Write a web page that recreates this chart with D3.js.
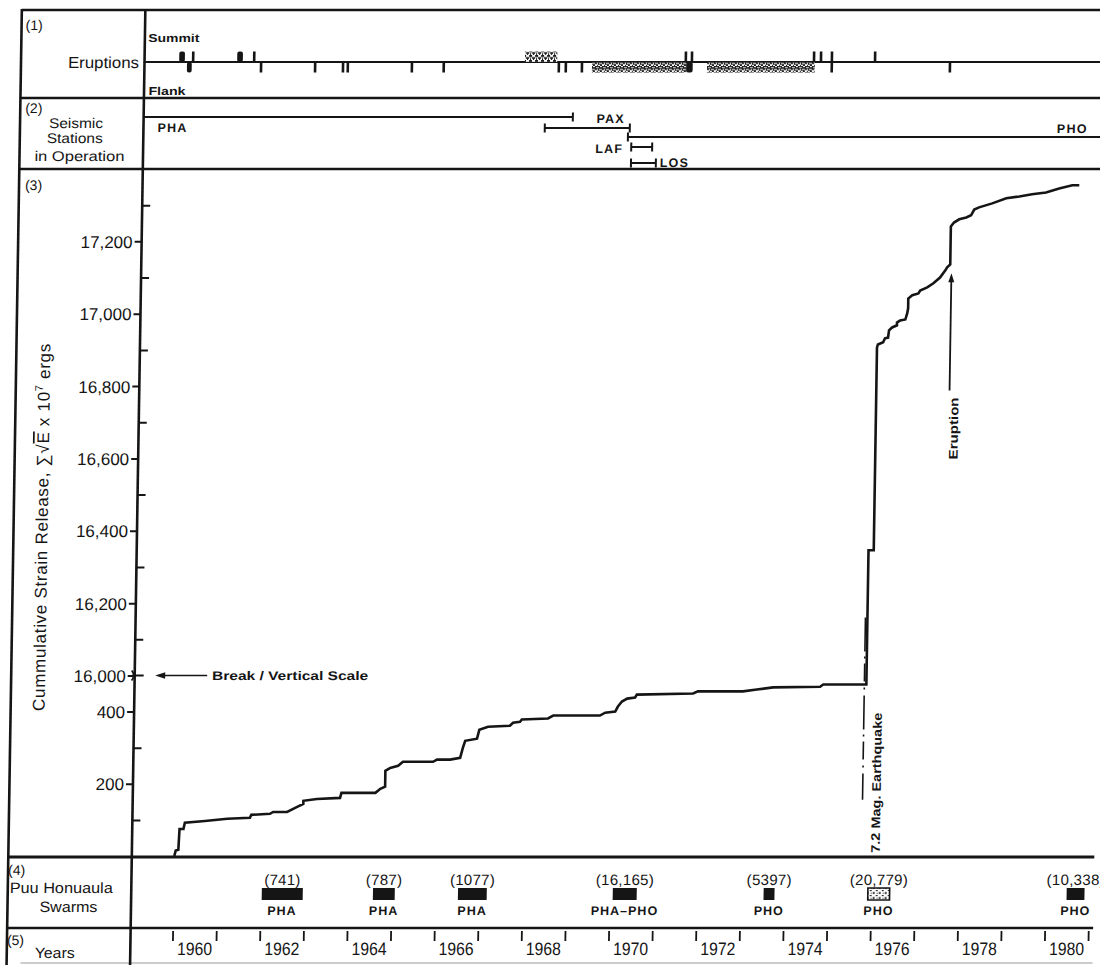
<!DOCTYPE html>
<html>
<head>
<meta charset="utf-8">
<script src="https://cdn.jsdelivr.net/npm/d3@7"></script>
<style>
html,body{margin:0;padding:0;background:#fff;}
svg{display:block;}
text{font-family:"Liberation Sans",Arial,Helvetica,sans-serif;fill:#151515;}
</style>
</head>
<body>
<svg id="chart" width="1100" height="965"></svg>
<script>
// ---------------- DATA ----------------
const yearTicks = [1960,1961,1962,1963,1964,1965,1966,1967,1968,1969,1970,1971,1972,1973,1974,1975,1976,1977,1978,1979,1980,1981];
const yearLabels = [1960,1962,1964,1966,1968,1970,1972,1974,1976,1978,1980];

const majorTicks = [200,400,16000,16200,16400,16600,16800,17000,17200];
const minorTicks = [100,300,16100,16300,16500,16700,16900,17100,17300];

// cumulative strain release curve (year, value)
const strainYears = [1960.00,1960.03,1960.09,1960.11,1960.20,1960.23,1960.69,1961.20,1961.72,1961.75,
  1962.18,1962.25,1962.57,1962.80,1962.94,1962.94,1963.25,1963.78,1963.81,1964.59,
  1964.70,1964.81,1964.81,1964.92,1965.10,1965.21,1965.90,1965.99,1966.29,1966.52,
  1966.58,1966.63,1966.90,1966.95,1967.15,1967.65,1967.72,1967.88,1967.92,1968.52,
  1968.64,1969.71,1969.83,1970.06,1970.12,1970.21,1970.33,1970.51,1970.55,1971.84,
  1971.95,1972.98,1973.30,1973.67,1974.75,1974.82,1975.81,1975.81,1975.93,1975.93,
  1975.95,1976.07,1976.11,1976.18,1976.20,1976.27,1976.38,1976.38,1976.45,1976.57,
  1976.61,1976.63,1976.63,1976.72,1976.86,1976.90,1977.06,1977.20,1977.35,1977.47,
  1977.51,1977.58,1977.58,1977.65,1977.77,1977.93,1978.04,1978.11,1978.22,1978.52,
  1978.84,1979.14,1979.43,1979.75,1980.05,1980.35,1980.51];
const strainValues = [0,15,17,75,75,92,97,103,106,114,
  117,122,122,136,144,153,158,161,175,175,
  186,192,236,244,250,261,261,267,267,272,
  300,319,325,350,358,361,369,372,378,381,
  389,389,397,400,414,428,436,439,447,450,
  456,456,461,467,469,475,475,16346,16346,16907,
  16915,16921,16932,16934,16954,16962,16968,16976,16981,16984,
  17001,17015,17042,17051,17056,17064,17073,17084,17100,17120,
  17128,17136,17241,17252,17261,17266,17272,17288,17294,17305,
  17319,17324,17330,17335,17346,17355,17355];

// eruptions
const eruptStart = [1959.82,1960.14,1961.15,1961.54,1967.75,1971.44,1971.58,1974.38,1974.54,1974.79,1975.78,
  1960.00,1961.70,1962.94,1963.58,1963.69,1965.16,1965.89,1968.53,1968.69,1969.06,1969.29,1971.45,1971.93,1974.79,1977.50];
const eruptEnd = [1959.95,1960.14,1961.28,1961.54,1968.49,1971.44,1971.58,1974.38,1974.54,1974.79,1975.78,
  1960.11,1961.70,1962.94,1963.58,1963.69,1965.16,1965.89,1968.53,1968.69,1969.06,1971.45,1971.60,1974.40,1974.79,1977.50];
const eruptSide = ["summit","summit","summit","summit","summit","summit","summit","summit","summit","summit","summit",
  "flank","flank","flank","flank","flank","flank","flank","flank","flank","flank","flank","flank","flank","flank","flank"];
const eruptKind = ["solid","solid","solid","solid","stipple","solid","solid","solid","solid","solid","solid",
  "solid","solid","solid","solid","solid","solid","solid","solid","solid","solid","stipple","solid","stipple","solid","solid"];

// seismic stations
const stationNames = ["PHA","PAX","PHO","LAF","LOS"];
const stationStart = [1959.03,1968.23,1970.14,1970.22,1970.22];
const stationEnd   = [1968.87,1970.18,1981.50,1970.70,1970.79];

// Puu Honuaula swarms
const swarmEnergy  = [741,787,1077,16165,5397,20779,10338];
const swarmStart   = [1962.02,1964.57,1966.52,1970.07,1973.53,1975.92,1980.48];
const swarmEnd     = [1962.96,1965.07,1967.18,1970.62,1973.78,1976.42,1980.89];
const swarmStation = ["PHA","PHA","PHA","PHA\u2013PHO","PHO","PHO","PHO"];
const swarmKind    = ["solid","solid","solid","solid","solid","open","solid"];

const earthquakeYear = 1975.81;
const eruptionYear = 1977.61;

// ---------------- LAYOUT ----------------
const LEFT = 14, AX = 137.5, RIGHT = 1100;
const Y_TOP = 10, Y_S1 = 98, Y_S2 = 169, Y_S3 = 857, Y_S4 = 928;
const BASE = 62;
const INK = "#151515";

const x = d3.scaleLinear().domain([1960, 1980]).range([180, 1052]);
const y = d3.scaleLinear().domain([0, 500, 16000, 17400]).range([856, 675.5, 675.5, 169]);

const svg = d3.select("#chart");
const defs = svg.append("defs");
const pat = defs.append("pattern").attr("id","stip").attr("width",7).attr("height",6).attr("patternUnits","userSpaceOnUse");
pat.append("rect").attr("width",7).attr("height",6).attr("fill","#1a1a1a");
pat.append("path").attr("d","M1,1h3v1h-3z M4,3h3v1h-3z M0,4h2v2h-2z M5,0h2v1h-2z M2,3h1v2h-1z M3,5h2v1h-2z").attr("fill","#fff");
const pat2 = defs.append("pattern").attr("id","stip2").attr("width",6).attr("height",5).attr("patternUnits","userSpaceOnUse");
pat2.append("rect").attr("width",6).attr("height",5).attr("fill","#fff");
pat2.append("path").attr("d","M0,0h2v1h-2z M3,2h2v2h-2z M1,3h1v1h-1z").attr("fill","#222");
const pat3 = defs.append("pattern").attr("id","stip3").attr("width",6).attr("height",5).attr("patternUnits","userSpaceOnUse");
pat3.append("rect").attr("width",6).attr("height",5).attr("fill","#fff");
pat3.append("path").attr("d","M0,0h3v2h-3z M3,2h3v2h-3z M1,3h1v2h-1z M4,4h1v1h-1z").attr("fill","#1a1a1a");

// scan skew
const g = svg.append("g").attr("transform","translate(0,500) skewX(-0.917) translate(0,-500)");

function label(parent, px, py, s, o = {}) {
  const t = parent.append("text").attr("x", px).attr("y", py).text(s)
    .attr("font-size", o.size || 14)
    .attr("font-weight", o.weight || "normal")
    .attr("text-anchor", o.anchor || "start");
  if (o.len) t.attr("textLength", o.len).attr("lengthAdjust", "spacingAndGlyphs");
  if (o.ls) t.attr("letter-spacing", o.ls);
  if (o.rot) t.attr("transform", `rotate(-90,${px},${py})`);
  return t;
}
function hline(py, w, x0 = LEFT, x1 = RIGHT) {
  g.append("line").attr("x1", x0).attr("x2", x1).attr("y1", py).attr("y2", py)
    .attr("stroke", INK).attr("stroke-width", w);
}

// ---------------- FRAME ----------------
hline(Y_TOP, 2.6);
hline(Y_S1, 2.6);
hline(Y_S2, 2.6);
hline(Y_S3, 2.8);
hline(Y_S4, 2.6);
g.append("line").attr("x1", LEFT + 14).attr("x2", RIGHT).attr("y1", 963).attr("y2", 963)
  .attr("stroke", "#bbb").attr("stroke-width", 1.5);
g.append("line").attr("x1", LEFT).attr("x2", LEFT).attr("y1", Y_TOP - 1).attr("y2", 965)
  .attr("stroke", INK).attr("stroke-width", 2.6);
g.append("line").attr("x1", AX).attr("x2", AX).attr("y1", Y_TOP - 1).attr("y2", 965)
  .attr("stroke", INK).attr("stroke-width", 2.6);

// ---------------- SECTION 1: ERUPTIONS ----------------
label(g, 18, 30, "(1)", {size: 14});
label(g, 132, 68, "Eruptions", {size: 16, anchor: "end", len: 71});
label(g, 141, 42, "Summit", {size: 11.5, weight: "bold", len: 51});
label(g, 142, 95, "Flank", {size: 11.5, weight: "bold", len: 37});
g.append("line").attr("x1", AX).attr("x2", RIGHT).attr("y1", BASE).attr("y2", BASE)
  .attr("stroke", INK).attr("stroke-width", 1.8);

const eruptions = eruptStart.map((s, i) => ({s, e: eruptEnd[i], side: eruptSide[i], kind: eruptKind[i]}));
g.append("g").selectAll("rect").data(eruptions).join("rect")
  .attr("x", d => d.e > d.s ? x(d.s) : x(d.s) - 1.3)
  .attr("width", d => d.e > d.s ? Math.max(x(d.e) - x(d.s), 2.6) : 2.6)
  .attr("y", d => d.side === "summit" ? BASE - 10.5 : BASE)
  .attr("height", 10.5)
  .attr("rx", d => d.kind === "solid" && d.e - d.s > 0.08 ? 2 : 0)
  .attr("fill", d => d.kind === "stipple" ? (d.side === "summit" ? "url(#stip3)" : "url(#stip)") : INK);

// ---------------- SECTION 2: SEISMIC STATIONS ----------------
label(g, 19, 113, "(2)", {size: 14});
label(g, 70, 128, "Seismic", {size: 14, anchor: "middle", len: 54});
label(g, 69, 143, "Stations", {size: 14, anchor: "middle", len: 56});
label(g, 74, 161, "in Operation", {size: 14, anchor: "middle", len: 90});

const stationRowY = {PHA: 117, PAX: 128, PHO: 137, LAF: 147, LOS: 163};
const stationCaps = {PHA: [false, true], PAX: [true, true], PHO: [true, false], LAF: [true, true], LOS: [true, true]};
const stations = stationNames.map((n, i) => ({n, s: stationStart[i], e: stationEnd[i]}));
const sg = g.append("g").attr("stroke", INK).attr("stroke-width", 2);
stations.forEach(d => {
  const ry = stationRowY[d.n];
  const x0 = Math.max(x(d.s), AX), x1 = Math.min(x(d.e), RIGHT + 10);
  sg.append("line").attr("x1", x0).attr("x2", x1).attr("y1", ry).attr("y2", ry);
  const caps = stationCaps[d.n];
  if (caps[0]) sg.append("line").attr("x1", x0).attr("x2", x0).attr("y1", ry - 4.5).attr("y2", ry + 4.5);
  if (caps[1]) sg.append("line").attr("x1", x1).attr("x2", x1).attr("y1", ry - 4.5).attr("y2", ry + 4.5);
});
const st = Object.fromEntries(stations.map(d => [d.n, d]));
const stOpt = {size: 12.5, weight: "bold", ls: 1.2};
label(g, AX + 14, stationRowY.PHA + 15, "PHA", stOpt);
label(g, x(st.PAX.e) - 5, stationRowY.PAX - 5, "PAX", {...stOpt, anchor: "end"});
label(g, 1051, stationRowY.PHO - 4, "PHO", stOpt);
label(g, x(st.LAF.s) - 8, stationRowY.LAF + 6, "LAF", {...stOpt, anchor: "end"});
label(g, x(st.LOS.e) + 4, stationRowY.LOS + 4, "LOS", stOpt);

// ---------------- SECTION 3: STRAIN RELEASE ----------------
label(g, 20, 190, "(3)", {size: 14});

// y-axis title
const yt = g.append("text").attr("x", 48).attr("y", 527).attr("text-anchor", "middle")
  .attr("font-size", 17).attr("letter-spacing", 0.7)
  .attr("transform", "rotate(-90,48,527)");
yt.append("tspan").text("Cummulative Strain Release, \u2211\u221A");
yt.append("tspan").text("E").style("text-decoration", "overline");
yt.append("tspan").text(" x 10");
yt.append("tspan").text("7").attr("font-size", 11).attr("dy", -7);
yt.append("tspan").text(" ergs").attr("dy", 7);

// axes
const axL = d3.axisLeft(y).tickValues(majorTicks).tickSize(7).tickPadding(2).tickFormat(d3.format(","));
const axR = d3.axisRight(y).tickValues(minorTicks).tickSize(8).tickFormat("");
const gL = g.append("g").attr("transform", `translate(${AX},0)`).call(axL);
const gR = g.append("g").attr("transform", `translate(${AX},0)`).call(axR);
[gL, gR].forEach(a => {
  a.select(".domain").remove();
  a.selectAll("line").attr("stroke", INK).attr("stroke-width", 2);
});
gL.selectAll("text").attr("font-size", 17).attr("fill", INK)
  .attr("font-family", '"Liberation Sans",Arial,sans-serif').attr("dy", "0.36em");
// break marks at 16,000
const yb = y(16000);
g.append("path").attr("d", `M${AX},${yb} h9 M${AX - 3},${yb - 5} q4,5 0,10`)
  .attr("fill", "none").attr("stroke", INK).attr("stroke-width", 1.8);
g.append("line").attr("x1", 164).attr("x2", 210).attr("y1", yb).attr("y2", yb)
  .attr("stroke", INK).attr("stroke-width", 1.6);
g.append("path").attr("d", `M158,${yb} l10,-3.2 v6.4 z`).attr("fill", INK);
label(g, 215, yb + 5, "Break / Vertical Scale", {size: 12.5, weight: "bold", len: 156});

// curve
const pts = strainYears.map((t, i) => [t, strainValues[i]]);
g.append("path").datum(pts)
  .attr("d", d3.line().x(d => x(d[0])).y(d => y(d[1])))
  .attr("fill", "none").attr("stroke", INK).attr("stroke-width", 2.6)
  .attr("stroke-linejoin", "miter");

// earthquake marker (dash-dot)
const xq = x(earthquakeYear) - 2;
g.append("line").attr("x1", xq).attr("x2", xq).attr("y1", y(16160)).attr("y2", y(156))
  .attr("stroke", INK).attr("stroke-width", 1.6).attr("stroke-dasharray", "34,5,2,5,18,6,2,6");
label(g, x(earthquakeYear) + 16, y(203), "7.2 Mag. Earthquake", {size: 12.5, weight: "bold", anchor: "middle", rot: true, len: 140});

// eruption marker
const xe = x(eruptionYear);
g.append("line").attr("x1", xe).attr("x2", xe).attr("y1", y(17095)).attr("y2", y(16788))
  .attr("stroke", INK).attr("stroke-width", 1.8);
g.append("path").attr("d", `M${xe},${y(17112)} l-3,9 h6 z`).attr("fill", INK);
label(g, xe + 9, y(16683), "Eruption", {size: 12.5, weight: "bold", anchor: "middle", rot: true, len: 62});

// ---------------- SECTION 4: SWARMS ----------------
label(g, 14, 875, "(4)", {size: 14});
label(g, 16, 893, "Puu Honuaula", {size: 15, len: 103});
label(g, 46, 912, "Swarms", {size: 15, len: 58});

const swarms = swarmEnergy.map((v, i) => ({v, s: swarmStart[i], e: swarmEnd[i], st: swarmStation[i], kind: swarmKind[i]}));
const fmtE = v => v >= 10000 ? d3.format(",")(v) : String(v);
const swg = g.append("g");
swg.selectAll("rect").data(swarms).join("rect")
  .attr("x", d => x(d.s)).attr("width", d => x(d.e) - x(d.s))
  .attr("y", 888).attr("height", 12)
  .attr("fill", d => d.kind === "open" ? "url(#stip2)" : INK)
  .attr("stroke", d => d.kind === "open" ? INK : "none").attr("stroke-width", 1.6);
swg.selectAll("text.en").data(swarms).join("text").attr("class", "en")
  .attr("x", d => (x(d.s) + x(d.e)) / 2).attr("y", 885).attr("text-anchor", "middle")
  .attr("font-size", 15).attr("letter-spacing", 0.3).text(d => `(${fmtE(d.v)})`);
swg.selectAll("text.st").data(swarms).join("text").attr("class", "st")
  .attr("x", d => (x(d.s) + x(d.e)) / 2).attr("y", 915).attr("text-anchor", "middle")
  .attr("font-size", 12.5).attr("font-weight", "bold").attr("letter-spacing", 1).text(d => d.st);

// ---------------- SECTION 5: YEARS ----------------
label(g, 14, 945, "(5)", {size: 14});
label(g, 42, 958, "Years", {size: 15, len: 40});
g.append("g").selectAll("line").data(yearTicks).join("line")
  .attr("x1", d => x(d)).attr("x2", d => x(d)).attr("y1", 931).attr("y2", 941)
  .attr("stroke", INK).attr("stroke-width", 1.8);
g.append("g").selectAll("text").data(yearLabels).join("text")
  .attr("x", d => x(d + 0.5)).attr("y", 955).attr("text-anchor", "middle")
  .attr("font-size", 18).attr("textLength", 35).attr("lengthAdjust", "spacingAndGlyphs")
  .text(d => d);
</script>
</body>
</html>
